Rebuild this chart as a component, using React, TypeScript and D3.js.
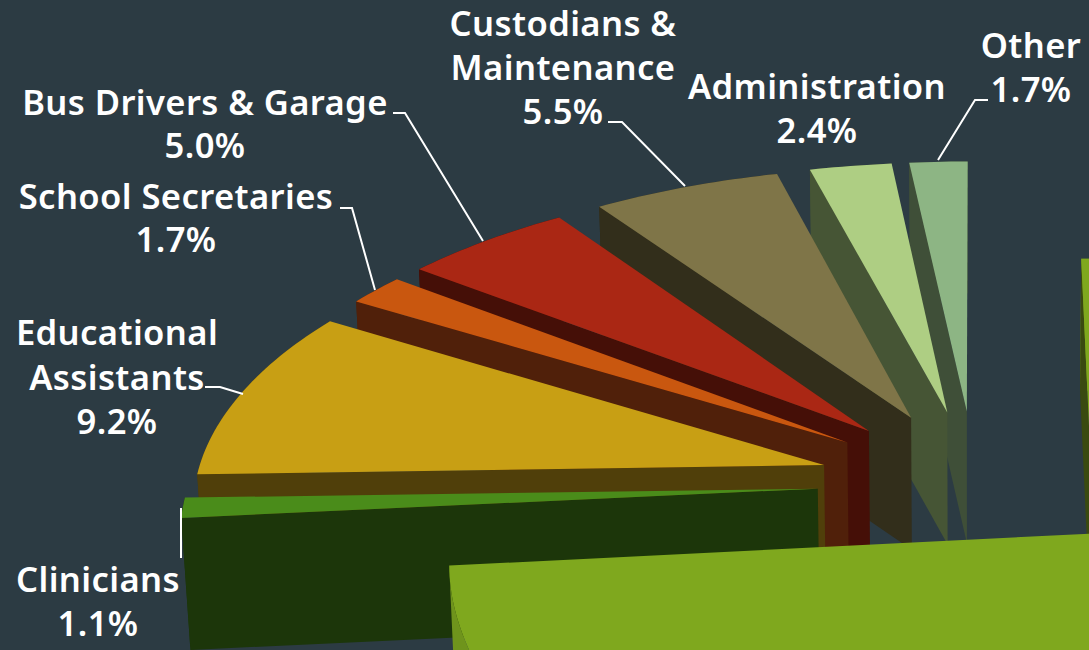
import React from "react";
import * as d3 from "d3";

// ---- data (order: counter-clockwise from 12 o'clock)
const categories = ["Other", "Administration", "Custodians & Maintenance", "Bus Drivers & Garage", "School Secretaries", "Educational Assistants", "Clinicians", "Unlabelled largest share"];
const shares = [1.7, 2.4, 5.5, 5.0, 1.7, 9.2, 1.1, 73.4];
const shareText = ["1.7%", "2.4%", "5.5%", "5.0%", "1.7%", "9.2%", "1.1%", ""];

// ---- styles
const topColors = ["#8db584", "#aece83", "#7f7548", "#aa2714", "#c9570f", "#c89f14", "#4a8c1a", "#7fa81e"];
const sideColors = ["#3f4f38", "#465535", "#322e1b", "#450f07", "#50200a", "#503f0a", "#1c360a", "#3a4a10"];
const rimColors = ["#3f4f38", "#465535", "#322e1b", "#450f07", "#50200a", "#503f0a", "#1c360a", "#6f941c"];
const bg = "#2c3b43";

// ---- label layout
const labelLines = [
  { i: 0, x: 1031, lines: ["Other", "1.7%"], y: [58, 102] },
  { i: 1, x: 817, lines: ["Administration", "2.4%"], y: [99, 143] },
  { i: 2, x: 563, lines: ["Custodians &", "Maintenance", "5.5%"], y: [36, 80, 124] },
  { i: 3, x: 205, lines: ["Bus Drivers & Garage", "5.0%"], y: [115, 158] },
  { i: 4, x: 176, lines: ["School Secretaries", "1.7%"], y: [209, 252] },
  { i: 5, x: 117, lines: ["Educational", "Assistants", "9.2%"], y: [345, 390, 434] },
  { i: 6, x: 98, lines: ["Clinicians", "1.1%"], y: [592, 636] },
];
const leaders: [number, number][][] = [
  [[988, 100], [975, 100], [938, 160]],
  [[393, 113], [405, 113], [483, 241]],
  [[340, 208], [352, 208], [375, 290]],
  [[608, 122], [622, 122], [685, 186]],
  [[205, 387], [220, 387], [243, 394]],
  [[181, 508], [181, 558]],
];

// ---- projection of the exploded disc
const view = { cx: 975, cy: 484, A: 629, BBack: 300, BFront: 280, kx: 0.118, kyBack: 0.13, kyFront: 0.3, explode: 0.25, depth: 132, lean: 0.0115 };

function project(X: number, Y: number): [number, number] {
  const sx = view.cx + (view.A * X) / (1 + view.kx * Y);
  const sy = Y > 0
    ? view.cy - (view.BBack * Y) / (1 + view.kyBack * Y)
    : view.cy - (view.BFront * Y) / (1 + view.kyFront * Y);
  return [sx, sy];
}
const drop = ([x, y]: [number, number]): [number, number] => [x - (x - view.cx) * view.lean, y + view.depth];

const pie = d3.pie<number>().sort(null).startAngle(0).endAngle(2 * Math.PI);
const line = d3.line<[number, number]>();

export default function App() {
  const arcs = pie(shares);
  const slices = arcs.map((a, i) => {
    const mid = (a.startAngle + a.endAngle) / 2;
    const ax = -view.explode * Math.sin(mid);
    const ay = view.explode * Math.cos(mid);
    const apex = project(ax, ay);
    const at = (t: number) => project(ax - Math.sin(t), ay + Math.cos(t));
    const n = Math.max(4, Math.ceil((a.endAngle - a.startAngle) * 60));
    const rim = d3.range(n + 1).map((k) => at(a.startAngle + ((a.endAngle - a.startAngle) * k) / n));
    const top = line([apex, ...rim])! + "Z";
    const rimFace = line([...rim, ...rim.map(drop).reverse()])! + "Z";
    const edge = rim[n];
    const wall = line([apex, edge, drop(edge), drop(apex)])! + "Z";
    return { i, top, rimFace, wall };
  });

  return (
    <svg width={1089} height={650} style={{ position: "absolute", left: 0, top: 0, display: "block" }}>
      <rect width={1089} height={650} fill={bg} />
      {slices.map((s) => (
        <g key={categories[s.i]} data-share={shareText[s.i]}>
          <path d={s.rimFace} fill={rimColors[s.i]} />
          <path d={s.wall} fill={sideColors[s.i]} />
          <path d={s.top} fill={topColors[s.i]} />
        </g>
      ))}
      {leaders.map((l, i) => (
        <path key={i} d={line(l)!} fill="none" stroke="#ffffff" strokeWidth={2} />
      ))}
      {labelLines.map((l) => (
        <text key={l.i} fill="#ffffff" textAnchor="middle" fontFamily="'Noto Sans'" fontWeight={600} fontSize={34.6} letterSpacing={0.4}>
          {l.lines.map((t, j) => (
            <tspan key={j} x={l.x} y={l.y[j]}>{t}</tspan>
          ))}
        </text>
      ))}
    </svg>
  );
}
